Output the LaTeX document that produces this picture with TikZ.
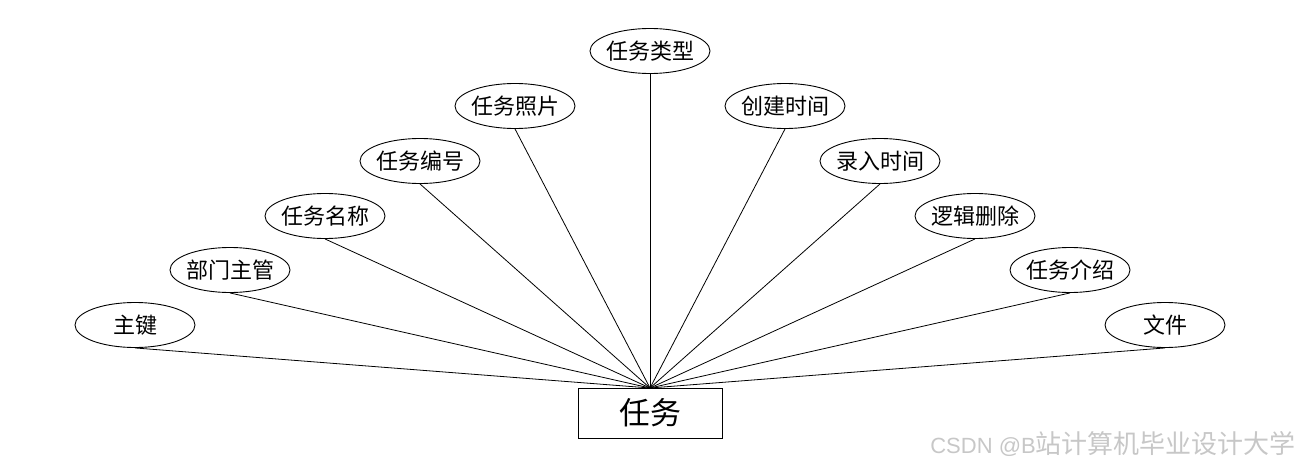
\documentclass[tikz,border=0pt]{standalone}
\usepackage{fontspec}
\setmainfont{Liberation Sans}
\newfontfamily\cjk{Noto Sans CJK SC}
\usetikzlibrary{shapes.geometric}
\begin{document}
\begin{tikzpicture}[x=1pt,y=-1pt,
  attr/.style={draw, ellipse, line width=0.9pt, minimum width=120pt, minimum height=45pt, inner xsep=-2pt, inner ysep=0pt, font=\cjk\fontsize{22}{24}\selectfont},
  ent/.style={draw, rectangle, line width=0.9pt, minimum width=144pt, minimum height=50pt, inner sep=0pt, font=\cjk\fontsize{31}{34}\selectfont},
  conn/.style={line width=0.8pt},
  wm/.style={font=\fontsize{22}{24}\selectfont, text=black!22, anchor=east, inner sep=0pt}]
\useasboundingbox (0,0) rectangle (1300,468);
\node[ent] (e) at (650,413) {任务};
\coordinate (hub) at (650,388);
\node[attr] (a1) at (135,325) {主键};
\node[attr] (a2) at (230,270) {部门主管};
\node[attr] (a3) at (325,216) {任务名称};
\node[attr] (a4) at (420,161) {任务编号};
\node[attr] (a5) at (515,106) {任务照片};
\node[attr] (a6) at (650,51) {任务类型};
\node[attr] (a7) at (785,106) {创建时间};
\node[attr] (a8) at (880,161) {录入时间};
\node[attr] (a9) at (975,216) {逻辑删除};
\node[attr] (a10) at (1070,270) {任务介绍};
\node[attr] (a11) at (1165,325) {文件};
\foreach \i in {1,...,11} \draw[conn] (a\i.south) -- (hub);
\node[wm] (w) at (1296,444) {CSDN @B{\cjk\fontsize{26}{27}\selectfont 站计算机毕业设计大学}};
\end{tikzpicture}
\end{document}
